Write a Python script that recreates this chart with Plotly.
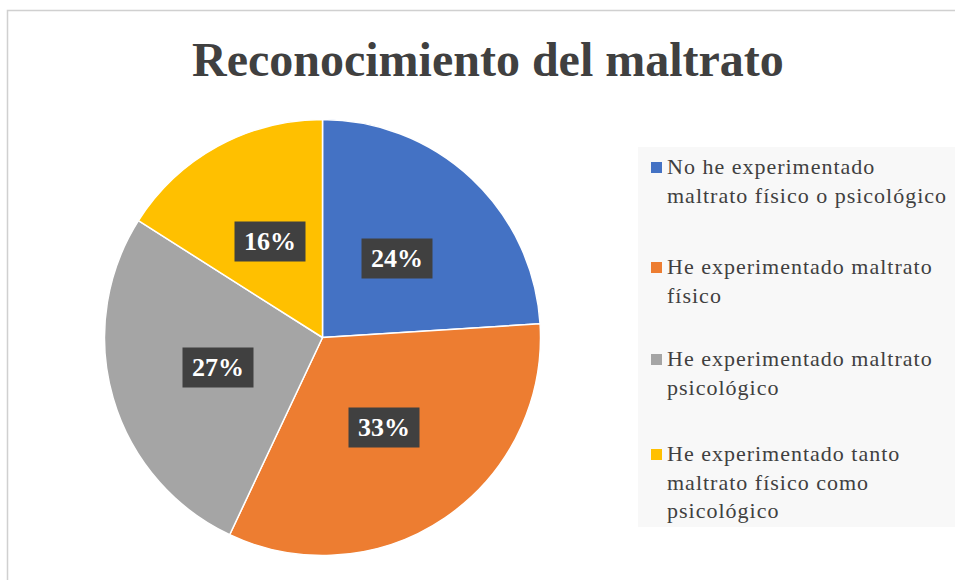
import math
import plotly.graph_objects as go

# DATOS
categorias = [
    "No he experimentado maltrato físico o psicológico",
    "He experimentado maltrato físico",
    "He experimentado maltrato psicológico",
    "He experimentado tanto maltrato físico como psicológico",
]
etiquetas_leyenda = [
    ["No he experimentado", "maltrato físico o psicológico"],
    ["He experimentado maltrato", "físico"],
    ["He experimentado maltrato", "psicológico"],
    ["He experimentado tanto", "maltrato físico como", "psicológico"],
]
porcentajes = [24, 33, 27, 16]
colores = ["#4472C4", "#ED7D31", "#A5A5A5", "#FFC000"]

W, H = 955, 580
CX, CY, R = 322.5, 337.5, 218  # centro y radio en pixeles

fig = go.Figure(go.Pie(
    labels=categorias,
    values=porcentajes,
    sort=False,
    direction="clockwise",
    rotation=0,
    marker=dict(colors=colores, line=dict(color="white", width=1.5)),
    textinfo="none",
    hoverinfo="label+percent",
    showlegend=False,
    domain=dict(x=[(CX - R) / W, (CX + R) / W], y=[1 - (CY + R) / H, 1 - (CY - R) / H]),
))

# Etiquetas de porcentaje con recuadro oscuro, en el ángulo medio de cada porción
acum = 0
for v in porcentajes:
    medio = (acum + v / 2) / sum(porcentajes) * 2 * math.pi
    acum += v
    px_ = CX + 0.5 * R * math.sin(medio)
    py_ = CY - 0.5 * R * math.cos(medio)
    fig.add_annotation(
        x=px_ / W, y=1 - py_ / H, xref="paper", yref="paper",
        xanchor="center", yanchor="middle",
        text=f"<b>{v}%</b>", showarrow=False,
        font=dict(family="Liberation Serif", size=26, color="white"),
        bgcolor="#404040", width=68, height=37,
    )

# Leyenda manual
fig.add_shape(type="rect", xref="paper", yref="paper",
              x0=638 / W, x1=1.02, y0=1 - 527 / H, y1=1 - 147 / H,
              fillcolor="#F8F8F8", line=dict(width=0), layer="below")
pos_y = [168, 268, 360, 455]
for lineas, color, y in zip(etiquetas_leyenda, colores, pos_y):
    fig.add_shape(type="rect", xref="paper", yref="paper",
                  x0=651 / W, x1=662 / W, y0=1 - (y + 5) / H, y1=1 - (y - 6) / H,
                  fillcolor=color, line=dict(width=0))
    texto = "<br>".join(f"<span style='letter-spacing:1px'>{l}</span>" for l in lineas)
    fig.add_annotation(
        x=665 / W, y=1 - (y - 16) / H, xref="paper", yref="paper",
        xanchor="left", yanchor="top", align="left",
        text=texto, showarrow=False,
        font=dict(family="Liberation Serif", size=22, color="#404040"),
    )

# Título
fig.add_annotation(
    x=488 / W, y=1 - 60 / H, xref="paper", yref="paper",
    xanchor="center", yanchor="middle",
    text="<b>Reconocimiento del maltrato</b>", showarrow=False,
    font=dict(family="Liberation Serif", size=48, color="#404040"),
)

# Borde del gráfico
fig.add_shape(type="rect", xref="paper", yref="paper",
              x0=7.5 / W, x1=1.05, y0=-0.05, y1=1 - 10.5 / H,
              line=dict(color="#D0D0D0", width=1.5), fillcolor="rgba(0,0,0,0)")

fig.update_layout(
    width=W, height=H,
    margin=dict(l=0, r=0, t=0, b=0),
    paper_bgcolor="white",
    plot_bgcolor="white",
)

fig.write_html("out.html", config={"displayModeBar": False},
               post_script="document.body.style.margin='0';document.body.style.overflow='hidden';")
